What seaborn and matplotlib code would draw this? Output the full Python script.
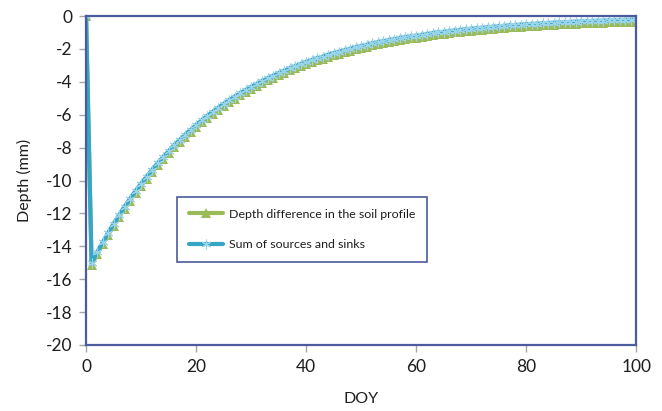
"""
Depth difference vs. sum of sources and sinks over the day of year.
Writes out.png (662x411).
"""

import matplotlib
matplotlib.use("Agg")
import matplotlib.pyplot as plt
import seaborn as sns

# day of year 0..100
doy = list(range(0, 101))

depth_diff = [
    0, -15.12, -14.49, -13.88, -13.31, -12.75, -12.22, -11.71, -11.22, -10.75, -10.31,
    -9.88, -9.47, -9.07, -8.70, -8.34, -7.99, -7.66, -7.34, -7.04, -6.75,
    -6.47, -6.20, -5.94, -5.70, -5.46, -5.24, -5.02, -4.82, -4.62, -4.43,
    -4.25, -4.08, -3.91, -3.75, -3.60, -3.45, -3.31, -3.18, -3.05, -2.92,
    -2.81, -2.69, -2.59, -2.48, -2.38, -2.29, -2.20, -2.11, -2.03, -1.94,
    -1.87, -1.79, -1.72, -1.66, -1.59, -1.53, -1.47, -1.41, -1.36, -1.31,
    -1.26, -1.21, -1.16, -1.12, -1.08, -1.04, -1.00, -0.96, -0.93, -0.89,
    -0.86, -0.83, -0.80, -0.77, -0.74, -0.72, -0.69, -0.67, -0.64, -0.62,
    -0.60, -0.58, -0.56, -0.54, -0.53, -0.51, -0.49, -0.48, -0.46, -0.45,
    -0.43, -0.42, -0.41, -0.40, -0.38, -0.37, -0.36, -0.35, -0.34, -0.33,
]

sources_sinks = [
    0, -15.00, -14.37, -13.76, -13.19, -12.63, -12.10, -11.59, -11.10, -10.63, -10.19,
    -9.76, -9.35, -8.95, -8.58, -8.22, -7.87, -7.54, -7.22, -6.92, -6.63,
    -6.35, -6.08, -5.82, -5.58, -5.34, -5.12, -4.90, -4.70, -4.50, -4.31,
    -4.13, -3.96, -3.79, -3.63, -3.48, -3.33, -3.19, -3.06, -2.93, -2.80,
    -2.69, -2.57, -2.47, -2.36, -2.26, -2.17, -2.08, -1.99, -1.91, -1.82,
    -1.75, -1.67, -1.60, -1.54, -1.47, -1.41, -1.35, -1.29, -1.24, -1.19,
    -1.14, -1.09, -1.04, -1.00, -0.96, -0.92, -0.88, -0.84, -0.81, -0.77,
    -0.74, -0.71, -0.68, -0.65, -0.62, -0.60, -0.57, -0.55, -0.52, -0.50,
    -0.48, -0.46, -0.44, -0.42, -0.41, -0.39, -0.37, -0.36, -0.34, -0.33,
    -0.31, -0.30, -0.29, -0.28, -0.26, -0.25, -0.24, -0.23, -0.22, -0.21,
]

x_ticks = [0, 20, 40, 60, 80, 100]
y_ticks = [0, -2, -4, -6, -8, -10, -12, -14, -16, -18, -20]

GREEN = "#9bbb59"
BLUE = "#35a6c6"
STAR = "#9ad4ea"
NAVY = "#4b5b9b"
TICK = "#a6a6a6"
TEXT = "#1e1e1e"

sns.set_style("white")
plt.rcParams["font.family"] = ["Lato", "DejaVu Sans"]

fig = plt.figure(figsize=(6.62, 4.11), dpi=100)
ax = fig.add_axes([0.130, 0.1606, 0.831, 0.8004])

sns.lineplot(x=doy, y=depth_diff, ax=ax, color=GREEN, linewidth=3,
             marker="^", markersize=6.5, markeredgewidth=0, markerfacecolor=GREEN,
             label="Depth difference in the soil profile")
sns.lineplot(x=doy, y=sources_sinks, ax=ax, color=BLUE, linewidth=3,
             marker=(6, 2, 0), markersize=7, markeredgewidth=0.8,
             markeredgecolor=STAR, markerfacecolor=STAR,
             label="Sum of sources and sinks")

ax.set_xlim(0, 100)
ax.set_ylim(-20, 0)
ax.set_xticks(x_ticks)
ax.set_yticks(y_ticks)
ax.set_xticklabels([str(v) for v in x_ticks])
ax.set_yticklabels([str(v) for v in y_ticks])
ax.tick_params(axis="both", which="major", direction="out", length=5, width=1,
               color=TICK, labelsize=12.5, labelcolor=TEXT, pad=5,
               bottom=True, left=True)

for side in ("top", "right", "bottom", "left"):
    ax.spines[side].set_visible(True)
    ax.spines[side].set_color(NAVY)
    ax.spines[side].set_linewidth(1.6)

ax.set_xlabel("DOY", fontsize=11.5, color=TEXT, labelpad=12)
ax.set_ylabel("Depth (mm)", fontsize=11.5, color=TEXT, labelpad=10)

leg = ax.legend(loc="upper left", bbox_to_anchor=(0.165, 0.45), fontsize=8.9,
                frameon=True, fancybox=False, borderpad=0.95, handlelength=2.8,
                handletextpad=0.5, labelspacing=1.6, borderaxespad=0)
leg.get_frame().set_edgecolor(NAVY)
leg.get_frame().set_linewidth(1.2)
leg.get_frame().set_alpha(1)
for txt in leg.get_texts():
    txt.set_color(TEXT)

fig.savefig("out.png", dpi=100)
plt.close(fig)
